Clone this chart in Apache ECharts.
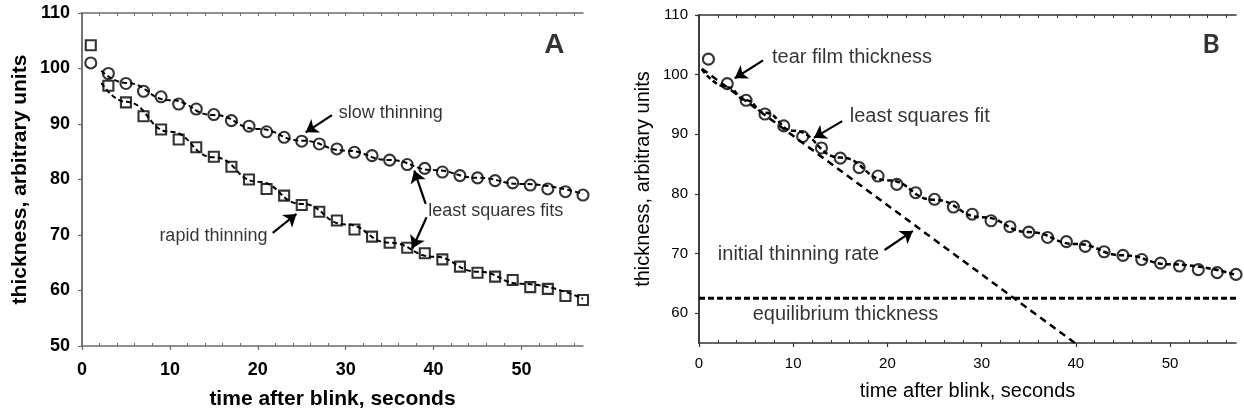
<!DOCTYPE html>
<html>
<head>
<meta charset="utf-8">
<script src="https://cdn.jsdelivr.net/npm/echarts@6/dist/echarts.min.js"></script>
<style>
  html, body { margin: 0; padding: 0; background: #fff; }
  #chart { width: 1244px; height: 415px; }
</style>
</head>
<body>
<div id="chart"></div>
<script>
// ---- Panel A: two thinning regimes after a blink ----
const timeA = [1,3,5,7,9,11,13,15,17,19,21,23,25,27,29,31,33,35,37,39,41,43,45,47,49,51,53,55,57];
const slowA = [101.0,99.1,97.3,95.9,94.9,93.6,92.7,91.7,90.6,89.6,88.6,87.6,86.9,86.4,85.5,84.9,84.3,83.5,82.7,82.0,81.35,80.7,80.3,79.8,79.4,79.0,78.3,77.8,77.2];
const rapidA = [104.2,96.9,93.9,91.4,89.0,87.2,85.8,84.1,82.3,80.0,78.3,77.1,75.4,74.2,72.6,71.0,69.7,68.6,67.7,66.7,65.6,64.3,63.2,62.5,61.9,60.6,60.3,59.0,58.3];
const slowFitA = [[2.2,99.6],[5,97.4],[10,94.3],[15,91.6],[20,89.1],[25,87.0],[30,85.2],[35,83.5],[40,81.7],[45,80.3],[50,79.2],[57,77.4]];
const rapidFitA = [[2.2,97.4],[5,94.0],[10,88.6],[15,84.0],[20,79.6],[25,75.6],[30,71.9],[35,68.6],[40,66.1],[45,63.4],[50,61.2],[57,58.5]];

// ---- Panel B: thinning toward an equilibrium thickness ----
const timeB = [1,3,5,7,9,11,13,15,17,19,21,23,25,27,29,31,33,35,37,39,41,43,45,47,49,51,53,55,57];
const thickB = [102.6,98.5,95.7,93.4,91.4,89.6,87.7,86.0,84.4,83.0,81.6,80.2,79.1,77.8,76.6,75.5,74.5,73.6,72.7,72.0,71.2,70.3,69.7,69.0,68.4,67.9,67.3,66.8,66.5];
const fitB = [[0.3,100.9],[3,97.9],[5,95.7],[7,93.6],[10,90.6],[15,86.1],[20,82.3],[25,79.0],[30,76.1],[35,73.6],[40,71.6],[45,69.7],[50,68.2],[57,66.4]];
const initialRateB = [[0.3,101.0],[39.9,55.0]];
const equilibriumB = 62.5;

// ---- tick values ----
const xMajorTicks = [0,10,20,30,40,50];
const xMinorTicks = [2,4,6,8,12,14,16,18,22,24,26,28,32,34,36,38,42,44,46,48,52,54,56];
const xTopTicks = [0,2,4,6,8,10,12,14,16,18,20,22,24,26,28,30,32,34,36,38,40,42,44,46,48,50,52,54,56];
const yTicksA = [50,60,70,80,90,100,110];
const yTicksB = [60,70,80,90,100,110];

// ---- annotations, in data coordinates ----
const notesA = [
  ['slow thinning', 29.2, 92.0, 'right'],
  ['least squares fits', 39.4, 74.3, 'right'],
  ['rapid thinning', 21.1, 69.8, 'left']
];
const arrowsA = [
  [28.44, 91.6, 25.45, 88.5],
  [39.1, 75.6, 37.8, 81.6],
  [39.2, 73.2, 37.6, 67.6],
  [21.7, 70.4, 24.4, 73.8]
];
const notesB = [
  ['tear film thickness', 7.75, 102.8, 'right'],
  ['least squares fit', 16.0, 92.9, 'right'],
  ['initial thinning rate', 2.0, 69.9, 'right'],
  ['equilibrium thickness', 5.7, 59.8, 'right']
];
const arrowsB = [
  [6.8, 102.4, 3.8, 99.4],
  [15.2, 92.2, 12.2, 89.4],
  [19.7, 70.6, 22.7, 73.8]
];

const FONT = '"Liberation Sans", Arial, Helvetica, sans-serif';
const INK = '#000';

const pairs = (xs, ys) => xs.map((x, i) => [x, ys[i]]);

function xAxes(grid, axisColor, bold, labelSize, name, nameSize, nameGap, labelMargin) {
  const line = { show: true, lineStyle: { color: axisColor, width: 1.5 } };
  return [
    {
      gridIndex: grid, type: 'value', min: 0, max: 57, position: 'bottom',
      axisLine: line,
      axisTick: { show: true, length: 4, inside: false, customValues: xMajorTicks, lineStyle: { color: axisColor, width: 1.2 } },
      axisLabel: { show: true, customValues: xMajorTicks, margin: labelMargin, color: INK,
        fontFamily: FONT, fontSize: labelSize, fontWeight: bold ? 'bold' : 'normal' },
      splitLine: { show: false },
      name: name, nameLocation: 'middle', nameGap: nameGap,
      nameTextStyle: { color: INK, fontFamily: FONT, fontSize: nameSize, fontWeight: bold ? 'bold' : 'normal' }
    },
    {
      gridIndex: grid, type: 'value', min: 0, max: 57, position: 'bottom',
      axisLine: { show: false },
      axisTick: { show: true, length: 3, inside: true, customValues: xMinorTicks, lineStyle: { color: axisColor, width: 1 } },
      axisLabel: { show: false }, splitLine: { show: false }
    },
    {
      gridIndex: grid, type: 'value', min: 0, max: 57, position: 'top',
      axisLine: line,
      axisTick: { show: true, length: 3, inside: true, customValues: xTopTicks, lineStyle: { color: axisColor, width: 1 } },
      axisLabel: { show: false }, splitLine: { show: false }
    }
  ];
}

function yAxes(grid, min, ticks, axisColor, bold, labelSize, name, nameSize, nameGap, labelMargin) {
  const line = { show: true, lineStyle: { color: axisColor, width: 1.5 } };
  return [
    {
      gridIndex: grid, type: 'value', min: min, max: 110, position: 'left',
      axisLine: line,
      axisTick: { show: true, length: 4, inside: false, customValues: ticks, lineStyle: { color: axisColor, width: 1.2 } },
      axisLabel: { show: true, customValues: ticks, margin: labelMargin, color: INK,
        fontFamily: FONT, fontSize: labelSize, fontWeight: bold ? 'bold' : 'normal' },
      splitLine: { show: false },
      name: name, nameLocation: 'middle', nameGap: nameGap, nameRotate: 90,
      nameTextStyle: { color: INK, fontFamily: FONT, fontSize: nameSize, fontWeight: bold ? 'bold' : 'normal' }
    },
    {
      gridIndex: grid, type: 'value', min: min, max: 110, position: 'right',
      axisLine: line,
      axisTick: { show: true, length: 3, inside: true, customValues: ticks, lineStyle: { color: axisColor, width: 1 } },
      axisLabel: { show: false }, splitLine: { show: false }
    }
  ];
}

function markers(name, xi, yi, symbol, size, data) {
  return {
    name: name, type: 'scatter', xAxisIndex: xi, yAxisIndex: yi,
    symbol: symbol, symbolSize: size, data: data, z: 4,
    itemStyle: { color: 'rgba(0,0,0,0)', borderColor: INK, borderWidth: 2.1 },
    silent: true
  };
}

function dashed(name, xi, yi, data, dash, width, smooth) {
  return {
    name: name, type: 'line', xAxisIndex: xi, yAxisIndex: yi,
    data: data, smooth: smooth, smoothMonotone: 'x', showSymbol: false, symbol: 'none',
    lineStyle: { color: INK, width: width, type: dash }, z: 3, silent: true
  };
}

function arrows(xi, yi, list) {
  return {
    name: 'arrows', type: 'line', xAxisIndex: xi, yAxisIndex: yi, data: [], silent: true,
    markLine: {
      silent: true, animation: false, symbol: ['none', 'arrow'], symbolSize: 12,
      label: { show: false },
      lineStyle: { color: INK, width: 2.2, type: 'solid' },
      emphasis: { disabled: true },
      data: list.map(a => [{ coord: [a[0], a[1]] }, { coord: [a[2], a[3]] }])
    }
  };
}

function notes(xi, yi, list, size) {
  return {
    name: 'notes', type: 'scatter', xAxisIndex: xi, yAxisIndex: yi, symbolSize: 0, silent: true, z: 6,
    data: list.map(n => ({
      name: n[0], value: [n[1], n[2]],
      label: { show: true, position: n[3], distance: 0, formatter: '{b}', color: '#000',
        fontFamily: FONT, fontSize: size }
    }))
  };
}

function panelLetter(xi, yi, letter, x, y, family, size) {
  return {
    name: 'panel', type: 'scatter', xAxisIndex: xi, yAxisIndex: yi, symbolSize: 0, silent: true,
    data: [{ name: letter, value: [x, y],
      label: { show: true, position: 'inside', formatter: '{b}', color: '#000',
        fontFamily: family, fontWeight: 'bold', fontSize: size } }]
  };
}

const chart = echarts.init(document.getElementById('chart'), null, { renderer: 'canvas' });

chart.setOption({
  animation: false,
  backgroundColor: '#fff',
  grid: [
    { left: 82, top: 13, width: 501, height: 333, outerBoundsMode: 'none' },
    { left: 699, top: 15, width: 537, height: 328, outerBoundsMode: 'none' }
  ],
  xAxis: [
    ...xAxes(0, '#6b6b6b', true, 18, 'time after blink, seconds', 21, 43, 15),
    ...xAxes(1, '#333', false, 15, 'time after blink, seconds', 20, 38, 13)
  ],
  yAxis: [
    ...yAxes(0, 50, yTicksA, '#6b6b6b', true, 18, 'thickness, arbitrary units', 21, 51, 12),
    ...yAxes(1, 55, yTicksB, '#333', false, 15, 'thickness, arbitrary units', 20, 46, 11)
  ],
  series: [
    // panel A
    dashed('slow fit', 0, 0, slowFitA, [5, 3], 2, true),
    dashed('rapid fit', 0, 0, rapidFitA, [5, 3], 2, true),
    markers('slow thinning', 0, 0, 'circle', 11, pairs(timeA, slowA)),
    markers('rapid thinning', 0, 0, 'rect', 10, pairs(timeA, rapidA)),
    arrows(0, 0, arrowsA),
    notes(0, 0, notesA, 18),
    panelLetter(0, 0, 'A', 53.75, 104.2, FONT, 28),
    // panel B
    dashed('least squares fit', 3, 2, fitB, [5, 3], 2.5, true),
    dashed('initial thinning rate', 3, 2, initialRateB, [7, 5], 2.5, false),
    dashed('equilibrium thickness', 3, 2, [[0, equilibriumB], [57, equilibriumB]], [6, 3], 3, false),
    markers('tear film thickness', 3, 2, 'circle', 11, pairs(timeB, thickB)),
    arrows(3, 2, arrowsB),
    notes(3, 2, notesB, 20),
    panelLetter(3, 2, 'B', 54.35, 105.1, 'Lato, "Open Sans", sans-serif', 26)
  ]
});
</script>
</body>
</html>
